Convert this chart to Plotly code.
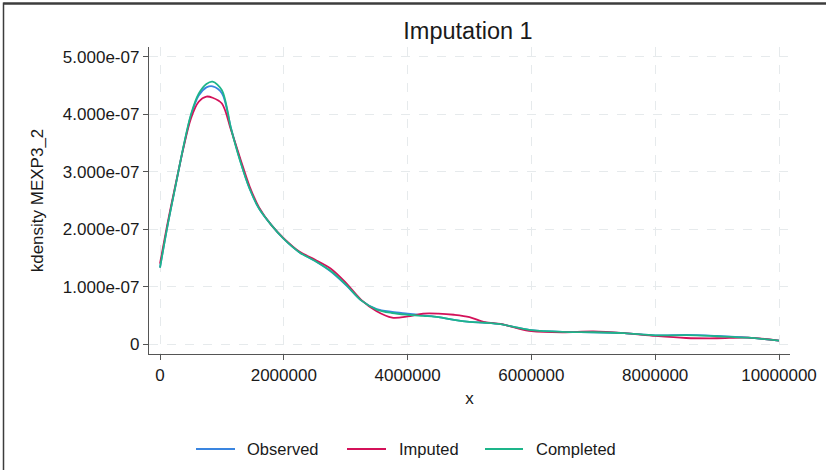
import plotly.graph_objects as go

# x grid (in millions), densities in units of 1e-7
x_m = [0, 0.125, 0.25, 0.375, 0.5, 0.625, 0.75, 0.85, 1.0, 1.15, 1.3, 1.45, 1.6, 1.8,
       2.0, 2.25, 2.5, 2.75, 3.0, 3.25, 3.5, 3.75, 4.0, 4.25, 4.5, 4.75, 5.0, 5.25,
       5.5, 5.75, 6.0, 6.5, 7.0, 7.5, 8.0, 8.5, 9.0, 9.5, 10.0]

observed = [1.33, 2.08, 2.75, 3.41, 3.98, 4.33, 4.47, 4.49, 4.37, 3.75, 3.18, 2.70, 2.36, 2.07,
            1.83, 1.60, 1.45, 1.27, 1.03, 0.76, 0.61, 0.56, 0.53, 0.50, 0.47, 0.42, 0.385, 0.37,
            0.345, 0.29, 0.24, 0.21, 0.205, 0.19, 0.15, 0.16, 0.14, 0.11, 0.06]

imputed = [1.40, 2.12, 2.77, 3.40, 3.93, 4.22, 4.31, 4.29, 4.19, 3.72, 3.22, 2.74, 2.38, 2.07,
           1.84, 1.61, 1.47, 1.32, 1.07, 0.77, 0.57, 0.46, 0.48, 0.53, 0.53, 0.51, 0.47, 0.38,
           0.35, 0.28, 0.225, 0.205, 0.22, 0.19, 0.14, 0.105, 0.10, 0.11, 0.06]

completed = [1.33, 2.08, 2.75, 3.42, 4.00, 4.36, 4.53, 4.57, 4.42, 3.74, 3.17, 2.70, 2.36, 2.07,
             1.83, 1.60, 1.45, 1.28, 1.04, 0.76, 0.60, 0.54, 0.51, 0.49, 0.47, 0.42, 0.385, 0.37,
             0.345, 0.29, 0.24, 0.21, 0.205, 0.19, 0.15, 0.155, 0.135, 0.11, 0.06]

series_names = ["Observed", "Imputed", "Completed"]
series_colors = ["#3a85e0", "#d41159", "#1db58a"]

x_tick_vals = [0, 2000000, 4000000, 6000000, 8000000, 10000000]
x_tick_text = ["0", "2000000", "4000000", "6000000", "8000000", "10000000"]
y_tick_vals = [0, 1e-7, 2e-7, 3e-7, 4e-7, 5e-7]
y_tick_text = ["0", "1.000e-07", "2.000e-07", "3.000e-07", "4.000e-07", "5.000e-07"]

FONT = "Liberation Sans, Arial, sans-serif"
W, H = 827, 470
L, R, T, B = 149, 37, 47, 116
pw, ph = W - L - R, H - T - B


def px2x(px):
    return (px - L) / pw


def py2y(py):
    return (H - B - py) / ph


xs = [v * 1e6 for v in x_m]
fig = go.Figure()
for name, ys, col in zip(series_names, [observed, imputed, completed], series_colors):
    fig.add_trace(go.Scatter(
        x=xs, y=[v * 1e-7 for v in ys], mode="lines", name=name, showlegend=False,
        line=dict(color=col, width=1.8, shape="spline", smoothing=0.9),
    ))

# legend drawn as line samples + text (Stata-style long samples)
legend_line_x = [(196, 235), (347, 386), (485, 523)]
legend_text_x = [245, 397, 534]
legend_y = 449
shapes = []
annotations = []
for name, col, (a, b), tx in zip(series_names, series_colors, legend_line_x, legend_text_x):
    shapes.append(dict(type="line", xref="paper", yref="paper",
                       x0=px2x(a), x1=px2x(b), y0=py2y(legend_y), y1=py2y(legend_y),
                       line=dict(color=col, width=1.8)))
    annotations.append(dict(text=name, xref="paper", yref="paper", x=px2x(tx), y=py2y(legend_y),
                            xanchor="left", yanchor="middle", showarrow=False,
                            font=dict(size=16.5, color="#1a1a1a")))

# outer frame (top and left edges)
shapes.append(dict(type="line", xref="paper", yref="paper", x0=px2x(3.5), x1=px2x(826),
                   y0=py2y(3.5), y1=py2y(3.5), line=dict(color="#3c3c3c", width=2.5)))
shapes.append(dict(type="line", xref="paper", yref="paper", x0=px2x(3.5), x1=px2x(3.5),
                   y0=py2y(2.5), y1=py2y(470), line=dict(color="#3c3c3c", width=1.5)))

fig.update_layout(
    width=W, height=H,
    margin=dict(l=L, r=R, t=T, b=B, pad=0, autoexpand=False),
    paper_bgcolor="white", plot_bgcolor="white",
    font=dict(family=FONT, size=17, color="#1a1a1a"),
    title=dict(text="Imputation 1", x=468 / W, xref="container", xanchor="center",
               y=1 - 31 / H, yref="container", yanchor="middle",
               font=dict(size=23.5, color="#1a1a1a")),
    showlegend=False,
    xaxis=dict(
        range=[-177700, 10177700], tickvals=x_tick_vals, ticktext=x_tick_text,
        showline=True, linecolor="#555555", linewidth=1.3,
        ticks="outside", ticklen=5, tickcolor="#555555", tickwidth=1.3,
        showgrid=True, gridcolor="#e6eaec", griddash="dash", gridwidth=1,
        zeroline=False, tickfont=dict(size=17),
        title=dict(text="x", standoff=8, font=dict(size=17)),
    ),
    yaxis=dict(
        range=[-1.74e-8, 5.174e-7], tickvals=y_tick_vals, ticktext=y_tick_text,
        showline=True, linecolor="#555555", linewidth=1.3,
        ticks="outside", ticklen=5, tickcolor="#555555", tickwidth=1.3,
        showgrid=True, gridcolor="#e6eaec", griddash="dash", gridwidth=1,
        zeroline=False, tickfont=dict(size=17),
        title=dict(text="kdensity MEXP3_2", standoff=14, font=dict(size=17)),
    ),
    shapes=shapes,
    annotations=annotations,
)

fig.write_html("out.html")
